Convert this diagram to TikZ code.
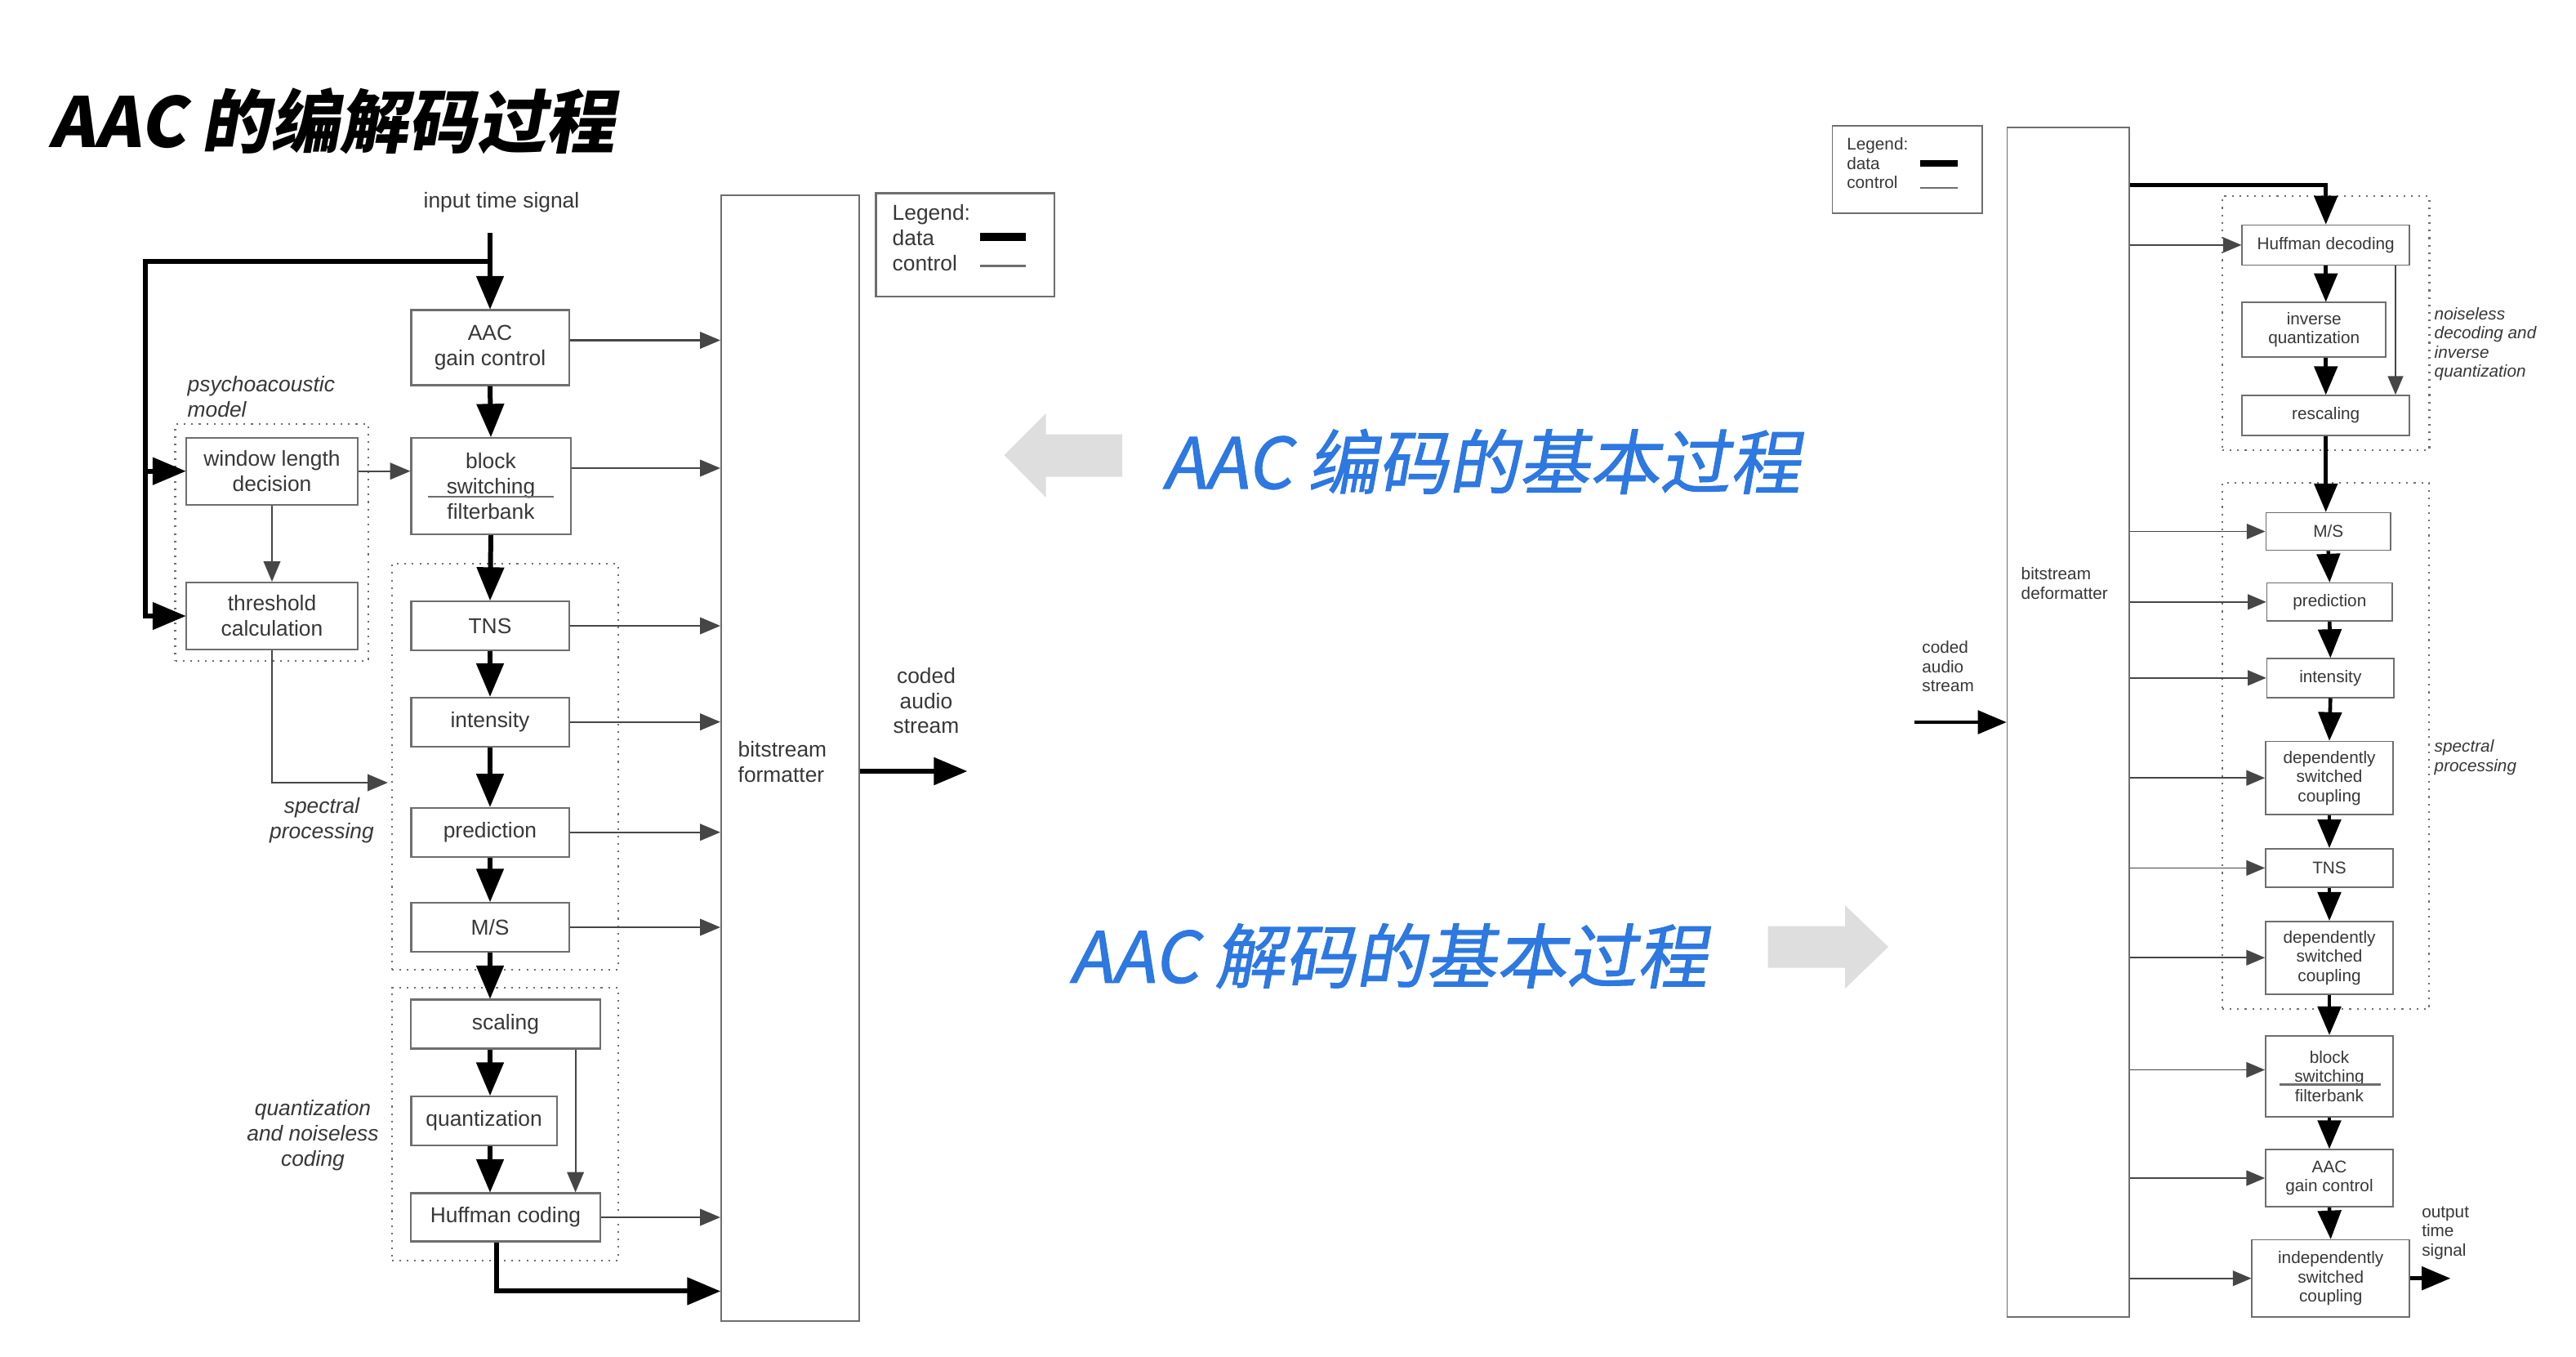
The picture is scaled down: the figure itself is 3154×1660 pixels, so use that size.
\documentclass[tikz,border=0pt]{standalone}
\usepackage{fontspec}
\usepackage{tikz}
\usetikzlibrary{shapes, calc, arrows, positioning}
\setmainfont{Liberation Sans}
\newfontfamily\cjkfont[FakeSlant=0.18]{Noto Sans CJK SC}
\newfontfamily\cjkmid[FakeSlant=0.18,FakeBold=1.2]{Noto Sans CJK SC}
\definecolor{boxgray}{RGB}{110,110,110}
\definecolor{txtgray}{RGB}{55,55,55}
\definecolor{linegray}{RGB}{70,70,70}
\definecolor{arrowgray}{RGB}{222,222,222}
\definecolor{headblue}{RGB}{45,120,225}
\newcommand{\enctext}{\fontsize{7.5}{8.8}\selectfont}
\newcommand{\dectext}{\fontsize{5.9}{6.7}\selectfont}

\begin{document}
\begin{tikzpicture}[x=0.01cm,y=-0.01cm,>=triangle 45,
	box/.style={draw=boxgray,line width=0.6pt,text=txtgray,align=center,font=\enctext,inner sep=0pt},
	dbox/.style={box,line width=0.5pt,font=\dectext},
	grp/.style={draw=boxgray,dotted,line width=0.6pt,inner sep=0pt},
	data/.style={->,line width=1.7pt},
	ddata/.style={->,line width=1.3pt},
	ctrl/.style={->,draw=linegray,line width=0.6pt},
	dctrl/.style={->,draw=linegray,line width=0.45pt},
	lbl/.style={text=txtgray,font=\enctext,align=center,inner sep=0pt},
	ital/.style={lbl,font=\enctext\itshape},
	dlbl/.style={text=txtgray,font=\dectext,align=left,inner sep=0pt,anchor=west},
	dital/.style={dlbl,font=\dectext\itshape},
	]
	\useasboundingbox (0,0) rectangle (3154,1660);

	\node[anchor=west,inner sep=0pt,font=\cjkfont\bfseries\fontsize{24}{28}\selectfont] (title) at (60,148) {AAC 的编解码过程};
	\node[anchor=west,inner sep=0pt,text=headblue,font=\cjkmid\fontsize{24.5}{28}\selectfont] (enchead) at (1423,565) {AAC 编码的基本过程};
	\node[anchor=west,inner sep=0pt,text=headblue,font=\cjkmid\fontsize{24.5}{28}\selectfont] (dechead) at (1309,1170) {AAC 解码的基本过程};
	\fill[arrowgray] (1229.5,557) -- (1280.7,506) -- (1280.7,531.6) -- (1374,531.6) -- (1374,583.7) -- (1280.7,583.7) -- (1280.7,609) -- cycle;
	\fill[arrowgray] (2312,1159) -- (2259,1108) -- (2259,1133.7) -- (2164.6,1133.7) -- (2164.6,1184.7) -- (2259,1184.7) -- (2259,1210) -- cycle;

	\node[lbl] (intext) at (614,248) {input time signal};
	\coordinate (in) at (600,285);
	\coordinate (tap) at (600,320);
	\coordinate (fb) at (178,320);
	\node[box,minimum width=1.93cm,minimum height=0.92cm] (gain) at (600,425.5) {AAC\\gain control};
	\node[box,minimum width=1.95cm,minimum height=1.18cm] (bsw) at (601,595) {block\\switching\\filterbank};
	\node[grp,minimum width=2.36cm,minimum height=2.9cm] (psy) at (332.6,664) {};
	\node[box,minimum width=2.09cm,minimum height=0.82cm] (win) at (333,576.7) {window length\\decision};
	\node[box,minimum width=2.09cm,minimum height=0.82cm] (thr) at (333,754) {threshold\\calculation};
	\node[ital,align=left,anchor=west] (psylbl) at (229,486) {psychoacoustic\\model};
	\node[grp,minimum width=2.77cm,minimum height=4.96cm] (spec) at (618.5,938.5) {};
	\node[box,minimum width=1.93cm,minimum height=0.6cm] (tns) at (600,766) {TNS};
	\node[box,minimum width=1.93cm,minimum height=0.6cm] (int) at (600,883.6) {intensity};
	\node[box,minimum width=1.93cm,minimum height=0.6cm] (pred) at (600,1018.7) {prediction};
	\node[box,minimum width=1.93cm,minimum height=0.6cm] (ms) at (600,1135) {M/S};
	\node[ital] (speclbl) at (394,1004) {spectral\\processing};
	\node[grp,minimum width=2.77cm,minimum height=3.34cm] (qnc) at (618.5,1375.8) {};
	\node[box,minimum width=2.31cm,minimum height=0.6cm] (scal) at (619,1253.5) {scaling};
	\node[box,minimum width=1.78cm,minimum height=0.6cm] (quan) at (592.6,1372) {quantization};
	\node[box,minimum width=2.31cm,minimum height=0.59cm] (huff) at (619,1490) {Huffman coding};
	\node[ital] (qnclbl) at (383,1389.6) {quantization\\and noiseless\\coding};
	\node[box,minimum width=1.69cm,minimum height=13.78cm] (fmt) at (967.5,928) {};
	\node[lbl,align=left,anchor=west] (fmtlbl) at (903,933) {bitstream\\formatter};
	\node[lbl] (codedlbl) at (1134,857.6) {coded\\audio\\stream};
	\coordinate (eout) at (1184,944);
	\node[box,minimum width=2.18cm,minimum height=1.265cm] (eleg) at (1181.5,299.8) {};
	\node[lbl,align=left,anchor=west] (elegtxt) at (1092,291) {Legend:\\data\\control};
	\draw[line width=3pt] ($(eleg.center)+(18.5,-9.8)$) -- ($(eleg.center)+(74.5,-9.8)$);
	\draw[draw=boxgray,line width=0.8pt] ($(eleg.center)+(18.5,26)$) -- ($(eleg.center)+(74.5,26)$);
	\draw[draw=boxgray,line width=0.8pt] ($(bsw.center)+(-77,13)$) -- ($(bsw.center)+(77,13)$);

	\draw[data] (in) -- (gain.north);
	\draw[data] (tap) -- (fb) |- (thr.west);
	\draw[data] (fb |- win.west) -- (win.west);
	\draw[data] (gain.south) -- (bsw.north);
	\draw[data] (bsw.south) -- (tns.north);
	\draw[data] (tns.south) -- (int.north);
	\draw[data] (int.south) -- (pred.north);
	\draw[data] (pred.south) -- (ms.north);
	\draw[data] (ms.south) -- (ms.south |- scal.north);
	\draw[data] (scal.south -| ms.south) -- (quan.north -| ms.south);
	\draw[data] (quan.south -| ms.south) -- (huff.north -| ms.south);
	\draw[data] ($(huff.south)+(-11,0)$) |- ($(fmt.south west)+(0,-38)$);
	\draw[data] (eout -| fmt.east) -- (eout);
	\draw[ctrl] (win.east) -- (win.east -| bsw.west);
	\draw[ctrl] (win.south) -- (thr.north);
	\draw[ctrl] (thr.south) |- ($(spec.west)+(-4,19.5)$);
	\draw[ctrl] ($(scal.south east)+(-31,0)$) -- ($(huff.north east)+(-31,0)$);
	\draw[ctrl] ($(gain.east)+(0,-9)$) -- ($(gain.east -| fmt.west)+(0,-9)$);
	\draw[ctrl] ($(bsw.east)+(0,-22)$) -- ($(bsw.east -| fmt.west)+(0,-22)$);
	\draw[ctrl] (tns.east) -- (tns.east -| fmt.west);
	\draw[ctrl] (int.east) -- (int.east -| fmt.west);
	\draw[ctrl] (pred.east) -- (pred.east -| fmt.west);
	\draw[ctrl] (ms.east) -- (ms.east -| fmt.west);
	\draw[ctrl] (huff.east) -- (huff.east -| fmt.west);

	\node[dbox,minimum width=1.836cm,minimum height=1.072cm] (dleg) at (2335.4,207.3) {};
	\node[dlbl] (dlegtxt) at (2260.6,200) {Legend:\\data\\control};
	\draw[line width=2.5pt] ($(dleg.center)+(16,-7.3)$) -- ($(dleg.center)+(61.6,-7.3)$);
	\draw[draw=boxgray,line width=0.6pt] ($(dleg.center)+(16,22.7)$) -- ($(dleg.center)+(61.6,22.7)$);
	\node[dbox,minimum width=1.495cm,minimum height=14.55cm] (dfmt) at (2532.2,884.1) {};
	\node[dlbl] (dfmtlbl) at (2474,714) {bitstream\\deformatter};
	\node[dlbl] (dcoded) at (2352.7,815.8) {coded\\audio\\stream};
	\coordinate (din) at (2344,884);
	\node[grp,minimum width=2.533cm,minimum height=3.112cm] (dnl) at (2847.7,395.4) {};
	\node[dbox,minimum width=2.047cm,minimum height=0.49cm] (hdec) at (2847.7,299.9) {Huffman decoding};
	\node[dbox,minimum width=1.757cm,minimum height=0.67cm] (iq) at (2833.2,403.8) {inverse\\quantization};
	\node[dbox,minimum width=2.047cm,minimum height=0.486cm] (resc) at (2847.7,508.3) {rescaling};
	\node[dital] (dnllbl) at (2980,421) {noiseless\\decoding and\\inverse\\quantization};
	\node[grp,minimum width=2.53cm,minimum height=6.442cm] (dsp) at (2847.5,913.1) {};
	\node[dbox,minimum width=1.526cm,minimum height=0.46cm] (dms) at (2850.7,650.5) {M/S};
	\node[dbox,minimum width=1.534cm,minimum height=0.464cm] (dpred) at (2852.3,736.8) {prediction};
	\node[dbox,minimum width=1.554cm,minimum height=0.476cm] (dint) at (2853.3,829.8) {intensity};
	\node[dbox,minimum width=1.56cm,minimum height=0.896cm] (dsc1) at (2852,952.2) {dependently\\switched\\coupling};
	\node[dbox,minimum width=1.56cm,minimum height=0.473cm] (dtns) at (2852,1062.4) {TNS};
	\node[dbox,minimum width=1.56cm,minimum height=0.89cm] (dsc2) at (2852,1172.2) {dependently\\switched\\coupling};
	\node[dital] (dsplbl) at (2980,927) {spectral\\processing};
	\node[dbox,minimum width=1.56cm,minimum height=0.996cm] (dbsw) at (2852,1317.5) {block\\switching\\filterbank};
	\draw[draw=boxgray,line width=0.7pt] ($(dbsw.center)+(-61,10)$) -- ($(dbsw.center)+(63,10)$);
	\node[dbox,minimum width=1.56cm,minimum height=0.7cm] (dgain) at (2852,1442) {AAC\\gain control};
	\node[dbox,minimum width=1.926cm,minimum height=0.944cm] (disc) at (2853.7,1564.7) {independently\\switched\\coupling};
	\node[dlbl] (doutlbl) at (2964.6,1509.4) {output\\time\\signal};
	\coordinate (dout) at (3000,1564.7);

	\draw[ddata] (din) -- (din -| dfmt.west);
	\draw[ddata] ($(dfmt.north east)+(0,71)$) -| (hdec.north);
	\draw[ddata] (hdec.south) -- (hdec.south |- iq.north);
	\draw[ddata] (hdec.south |- iq.south) -- (resc.north);
	\draw[ddata] (resc.south) -- (resc.south |- dms.north);
	\draw[ddata] (dms.south) -- (dpred.north);
	\draw[ddata] (dpred.south) -- (dint.north);
	\draw[ddata] (dint.south) -- (dsc1.north);
	\draw[ddata] (dsc1.south) -- (dtns.north);
	\draw[ddata] (dtns.south) -- (dsc2.north);
	\draw[ddata] (dsc2.south) -- (dbsw.north);
	\draw[ddata] (dbsw.south) -- (dgain.north);
	\draw[ddata] (dgain.south) -- (disc.north);
	\draw[ddata] (disc.east) -- (dout);
	\draw[dctrl] ($(hdec.south east)+(-18,0)$) -- ($(resc.north east)+(-18,0)$);
	\draw[dctrl] (dfmt.east |- hdec.west) -- (hdec.west);
	\draw[dctrl] (dfmt.east |- dms.west) -- (dms.west);
	\draw[dctrl] (dfmt.east |- dpred.west) -- (dpred.west);
	\draw[dctrl] (dfmt.east |- dint.west) -- (dint.west);
	\draw[dctrl] (dfmt.east |- dsc1.west) -- (dsc1.west);
	\draw[dctrl] (dfmt.east |- dtns.west) -- (dtns.west);
	\draw[dctrl] (dfmt.east |- dsc2.west) -- (dsc2.west);
	\draw[dctrl] ($(dfmt.east |- dbsw.west)+(0,-8)$) -- ($(dbsw.west)+(0,-8)$);
	\draw[dctrl] (dfmt.east |- dgain.west) -- (dgain.west);
	\draw[dctrl] (dfmt.east |- disc.west) -- (disc.west);
\end{tikzpicture}
\end{document}
